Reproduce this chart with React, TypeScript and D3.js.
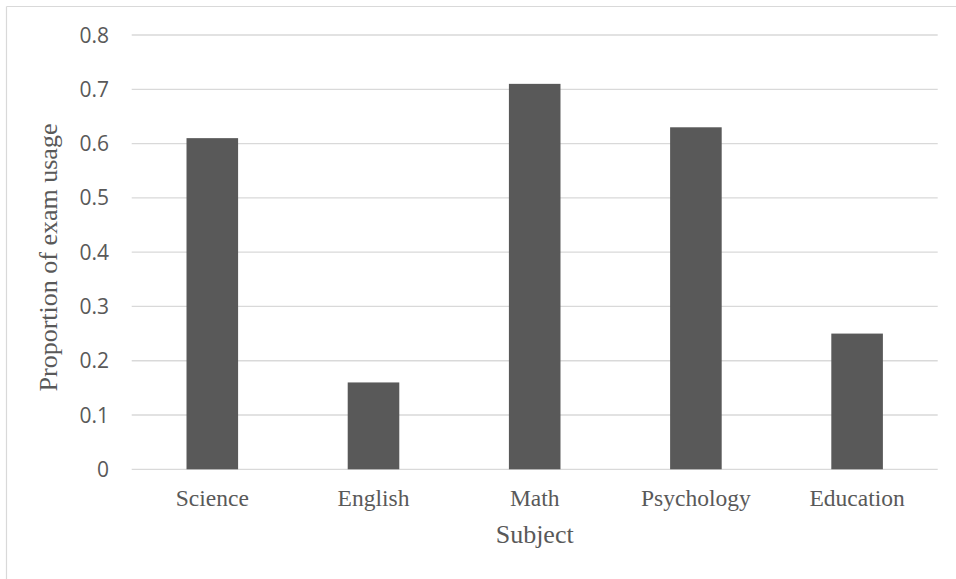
import React from "react";
import * as d3 from "d3";

const categories = ["Science", "English", "Math", "Psychology", "Education"];
const values = [0.61, 0.16, 0.71, 0.63, 0.25];
const yTicks = [0, 0.1, 0.2, 0.3, 0.4, 0.5, 0.6, 0.7, 0.8];
const yTitle = "Proportion of exam usage";
const xTitle = "Subject";

const W = 956;
const H = 579;
const left = 131.7;
const right = 937.7;
const top = 35;
const bottom = 469.3;
const textColor = "#595959";
const gridColor = "#d9d9d9";

export default function App() {
  const x = d3
    .scaleBand<string>()
    .domain(categories)
    .range([left, right])
    .paddingInner(0.68)
    .paddingOuter(0.34);
  const y = d3.scaleLinear().domain([0, 0.8]).range([bottom, top]);
  const fmt = (v: number) => (v === 0 ? "0" : d3.format(".1f")(v));

  return (
    <svg
      width={W}
      height={H}
      style={{ position: "absolute", left: 0, top: 0, background: "#fff" }}
    >
      <rect x={0} y={0} width={W} height={H} fill="#fff" />
      <line x1={6.5} y1={6.5} x2={W} y2={6.5} stroke={gridColor} strokeWidth={1.2} />
      <line x1={6.5} y1={6.5} x2={6.5} y2={H} stroke={gridColor} strokeWidth={1.2} />
      {yTicks.map((t) => (
        <g key={t}>
          <line
            x1={left}
            x2={right}
            y1={y(t)}
            y2={y(t)}
            stroke={gridColor}
            strokeWidth={1.3}
          />
          <text
            x={109}
            y={y(t)}
            dy="0.36em"
            textAnchor="end"
            fontFamily="'Open Sans', sans-serif"
            fontSize={21}
            fill={textColor}
          >
            {fmt(t)}
          </text>
        </g>
      ))}
      {categories.map((c, i) => (
        <g key={c}>
          <rect
            x={x(c)!}
            y={y(values[i])}
            width={x.bandwidth()}
            height={y(0) - y(values[i])}
            fill="#595959"
          />
          <text
            x={x(c)! + x.bandwidth() / 2}
            y={505.5}
            textAnchor="middle"
            fontFamily="'Liberation Serif', 'Times New Roman', serif"
            fontSize={23.5}
            fill={textColor}
          >
            {c}
          </text>
        </g>
      ))}
      <text
        x={(left + right) / 2}
        y={543}
        textAnchor="middle"
        fontFamily="'Liberation Serif', 'Times New Roman', serif"
        fontSize={26}
        fill={textColor}
      >
        {xTitle}
      </text>
      <text
        transform={`translate(57,257.5) rotate(-90)`}
        textAnchor="middle"
        fontFamily="'Liberation Serif', 'Times New Roman', serif"
        fontSize={26}
        fill={textColor}
      >
        {yTitle}
      </text>
    </svg>
  );
}
